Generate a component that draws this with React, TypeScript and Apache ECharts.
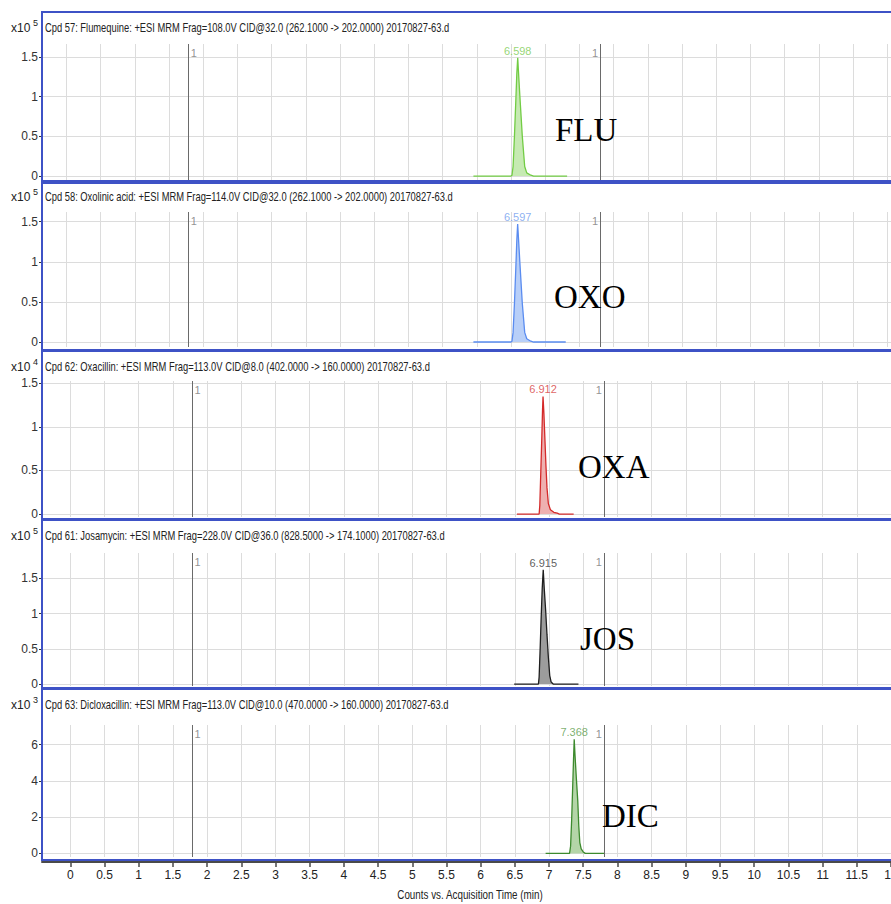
import React, { useEffect, useRef } from 'react';
import * as echarts from 'echarts';

// ---- data ----
const xTickValues = [0, 0.5, 1, 1.5, 2, 2.5, 3, 3.5, 4, 4.5, 5, 5.5, 6, 6.5, 7, 7.5, 8, 8.5, 9, 9.5, 10, 10.5, 11, 11.5, 12];
const markerTimes = [1.78, 7.81];

const compoundTitles = [
  'Cpd 57: Flumequine: +ESI MRM Frag=108.0V CID@32.0 (262.1000 -> 202.0000) 20170827-63.d',
  'Cpd 58: Oxolinic acid: +ESI MRM Frag=114.0V CID@32.0 (262.1000 -> 202.0000) 20170827-63.d',
  'Cpd 62: Oxacillin: +ESI MRM Frag=113.0V CID@8.0 (402.0000 -> 160.0000) 20170827-63.d',
  'Cpd 61: Josamycin: +ESI MRM Frag=228.0V CID@36.0 (828.5000 -> 174.1000) 20170827-63.d',
  'Cpd 63: Dicloxacillin: +ESI MRM Frag=113.0V CID@10.0 (470.0000 -> 160.0000) 20170827-63.d',
];
const scaleExponents = ['5', '5', '4', '5', '3'];
const compoundCodes = ['FLU', 'OXO', 'OXA', 'JOS', 'DIC'];
const xAxisTitle = 'Counts vs. Acquisition Time (min)';

// chromatogram traces: [time (min), counts / 10^exp]
const fluTrace: [number, number][] = [
  [5.95, 0], [6.50, 0], [6.514, 0.01], [6.53, 0.12], [6.55, 0.5], [6.57, 0.95], [6.585, 1.3], [6.598, 1.49],
  [6.61, 1.3], [6.63, 1.0], [6.665, 0.5], [6.70, 0.12], [6.73, 0.04], [6.79, 0.01], [6.83, 0], [7.32, 0],
];
const oxoTrace: [number, number][] = [
  [5.95, 0], [6.50, 0], [6.514, 0.01], [6.53, 0.12], [6.55, 0.48], [6.57, 0.92], [6.585, 1.27], [6.597, 1.47],
  [6.61, 1.28], [6.63, 0.98], [6.665, 0.48], [6.70, 0.12], [6.73, 0.04], [6.79, 0.01], [6.83, 0], [7.30, 0],
];
const oxaTrace: [number, number][] = [
  [6.53, 0], [6.855, 0], [6.865, 0.1], [6.88, 0.5], [6.895, 0.9], [6.905, 1.2], [6.912, 1.35],
  [6.925, 1.15], [6.94, 0.85], [6.955, 0.55], [6.97, 0.3], [6.99, 0.12], [7.02, 0.05], [7.07, 0.02], [7.12, 0.01], [7.15, 0], [7.36, 0],
];
const josTrace: [number, number][] = [
  [6.49, 0], [6.845, 0], [6.855, 0.1], [6.87, 0.5], [6.885, 0.95], [6.90, 1.35], [6.915, 1.62],
  [6.93, 1.35], [6.95, 1.05], [6.97, 0.7], [6.99, 0.38], [7.01, 0.12], [7.03, 0.03], [7.06, 0], [7.43, 0],
];
const dicTrace: [number, number][] = [
  [6.95, 0], [7.30, 0], [7.315, 0.4], [7.33, 1.8], [7.345, 3.6], [7.358, 5.2], [7.368, 6.3],
  [7.38, 5.4], [7.40, 4.1], [7.42, 2.9], [7.435, 1.5], [7.45, 0.6], [7.47, 0.25], [7.50, 0.08], [7.53, 0], [7.81, 0],
];

const fluYTicks = [0, 0.5, 1, 1.5];
const oxoYTicks = [0, 0.5, 1, 1.5];
const oxaYTicks = [0, 0.5, 1, 1.5];
const josYTicks = [0, 0.5, 1, 1.5];
const dicYTicks = [0, 2, 4, 6];

const traces = [fluTrace, oxoTrace, oxaTrace, josTrace, dicTrace];
const yTicks = [fluYTicks, oxoYTicks, oxaYTicks, josYTicks, dicYTicks];

// ---- look ----
const SANS = "'Liberation Sans', Arial, sans-serif";
const SERIF = "'Liberation Serif', 'Times New Roman', serif";
const FRAME_BLUE = '#3e52c6';
const HEADER_SQUEEZE = 0.78; // horizontal squeeze for the narrow header lettering
const TITLE_SQUEEZE = 0.82;

const traceColors = [
  { line: '#72cc44', fill: '#c6eab2', label: '#7acb50' },
  { line: '#5a8cf0', fill: '#b8cff8', label: '#6f9bee' },
  { line: '#d42a2a', fill: '#eeb0b0', label: '#d63a3a' },
  { line: '#1e1e1e', fill: '#9c9c9c', label: '#333333' },
  { line: '#3d8a2e', fill: '#b4d5a8', label: '#5c9c4c' },
];

const panels = [
  { top: 12, bottom: 181, gridTop: 44, gridBottom: 180, xMin: -0.358, xMax: 12.056, yMin: -0.05, yMax: 1.665, headerY: 28, codeX: 555, codeY: 130 },
  { top: 183, bottom: 350, gridTop: 212, gridBottom: 347, xMin: -0.358, xMax: 12.056, yMin: -0.062, yMax: 1.62, headerY: 197, codeX: 554, codeY: 297 },
  { top: 351, bottom: 519, gridTop: 381, gridBottom: 517, xMin: -0.414, xMax: 12, yMin: -0.034, yMax: 1.527, headerY: 367, codeX: 578, codeY: 467 },
  { top: 520, bottom: 688, gridTop: 553, gridBottom: 686, xMin: -0.414, xMax: 12, yMin: -0.028, yMax: 1.858, headerY: 536, codeX: 580, codeY: 639 },
  { top: 689, bottom: 860, gridTop: 725, gridBottom: 857, xMin: -0.414, xMax: 12, yMin: -0.2, yMax: 7.09, headerY: 705, codeX: 602, codeY: 816 },
];

function buildOption(): any {
  const last = panels.length - 1;
  const grid = panels.map((p) => ({
    left: 42, width: 849, top: p.gridTop, height: p.gridBottom - p.gridTop,
    containLabel: false, outerBoundsMode: 'none',
  }));

  const xAxis = panels.map((p, i) => ({
    type: 'value',
    gridIndex: i,
    min: p.xMin,
    max: p.xMax,
    position: 'bottom',
    offset: i === last ? 5 : 0,
    axisLine: { show: i === last, onZero: false, lineStyle: { color: '#4a4a4a', width: 2 } },
    axisTick: { show: i === last, length: 5, customValues: xTickValues, lineStyle: { color: '#4a4a4a', width: 1.5 } },
    axisLabel: {
      show: i === last, customValues: xTickValues, margin: 7, fontSize: 12, color: '#222', fontFamily: SANS,
      formatter: (v: number) => String(v),
    },
    splitLine: { show: true, lineStyle: { color: '#dcdcdc', width: 1 } },
  }));

  const yAxis = panels.map((p, i) => ({
    type: 'value',
    gridIndex: i,
    min: p.yMin,
    max: p.yMax,
    axisLine: { show: true, onZero: false, lineStyle: { color: '#666', width: 1 } },
    axisTick: { show: true, length: 3, customValues: yTicks[i], lineStyle: { color: '#333' } },
    axisLabel: {
      customValues: yTicks[i], margin: 4, fontSize: 12, color: '#333', fontFamily: SANS,
      formatter: (v: number) => String(v),
    },
    splitLine: { show: true, lineStyle: { color: '#dcdcdc', width: 1 } },
  }));

  const series: any[] = [];
  traces.forEach((trace, i) => {
    const c = traceColors[i];
    const apex = trace.reduce((a, b) => (b[1] > a[1] ? b : a));
    series.push({
      type: 'line',
      xAxisIndex: i,
      yAxisIndex: i,
      data: trace,
      showSymbol: false,
      lineStyle: { color: c.line, width: 1.3 },
      itemStyle: { color: c.line },
      areaStyle: { color: c.fill, opacity: 1 },
      z: 3,
      markLine: {
        silent: true,
        symbol: ['none', 'none'],
        label: { show: false },
        lineStyle: { color: '#6a6a6a', width: 1, type: 'solid' },
        data: markerTimes.map((t) => ({ xAxis: t })),
      },
    });
    series.push({
      type: 'scatter',
      xAxisIndex: i,
      yAxisIndex: i,
      symbolSize: 1,
      itemStyle: { color: 'rgba(0,0,0,0)' },
      clip: false,
      z: 4,
      data: [apex],
      label: {
        show: true,
        position: 'top',
        distance: 1,
        formatter: (prm: any) => prm.value[0].toFixed(3),
        color: c.label,
        fontSize: 11,
        fontFamily: SANS,
      },
    });
    series.push({
      type: 'scatter',
      xAxisIndex: i,
      yAxisIndex: i,
      symbolSize: 1,
      itemStyle: { color: 'rgba(0,0,0,0)' },
      clip: false,
      z: 4,
      data: markerTimes.map((t, k) => ({
        value: [t, panels[i].yMax],
        label: { position: k === 0 ? 'right' : 'left' },
      })),
      label: {
        show: true,
        formatter: '1',
        distance: 2,
        offset: [0, 9],
        color: '#777',
        fontSize: 11,
        fontFamily: SANS,
      },
    });
  });

  const graphic: any[] = [];
  panels.forEach((p, i) => {
    graphic.push({
      type: 'rect',
      z: 100,
      silent: true,
      shape: { x: 42, y: p.top, width: 900, height: p.bottom - p.top },
      style: { fill: 'none', stroke: FRAME_BLUE, lineWidth: 2 },
    });
    graphic.push({
      type: 'text', z: 100, x: 45, y: p.headerY, scaleX: HEADER_SQUEEZE,
      style: { text: compoundTitles[i], font: `12px ${SANS}`, fill: '#222', verticalAlign: 'middle' },
    });
    graphic.push({
      type: 'text', z: 100, x: 11, y: p.headerY,
      style: { text: 'x10', font: `12px ${SANS}`, fill: '#222', verticalAlign: 'middle' },
    });
    graphic.push({
      type: 'text', z: 100, x: 33, y: p.headerY - 5,
      style: { text: scaleExponents[i], font: `9px ${SANS}`, fill: '#222', verticalAlign: 'middle' },
    });
    graphic.push({
      type: 'text', z: 100, x: p.codeX, y: p.codeY,
      style: { text: compoundCodes[i], font: `33px ${SERIF}`, fill: '#000', verticalAlign: 'middle' },
    });
  });
  graphic.push({
    type: 'text', z: 100, x: 470, y: 895, scaleX: TITLE_SQUEEZE,
    style: { text: xAxisTitle, font: `12px ${SANS}`, fill: '#222', align: 'center', verticalAlign: 'middle' },
  });

  return { animation: false, backgroundColor: '#fff', grid, xAxis, yAxis, series, graphic };
}

export default function App() {
  const ref = useRef<HTMLDivElement>(null);
  useEffect(() => {
    if (!ref.current) return;
    const chart = echarts.init(ref.current, undefined, { renderer: 'svg' });
    chart.setOption(buildOption());
    return () => chart.dispose();
  }, []);
  return <div ref={ref} style={{ position: 'absolute', left: 0, top: 0, width: 891, height: 904 }} />;
}
